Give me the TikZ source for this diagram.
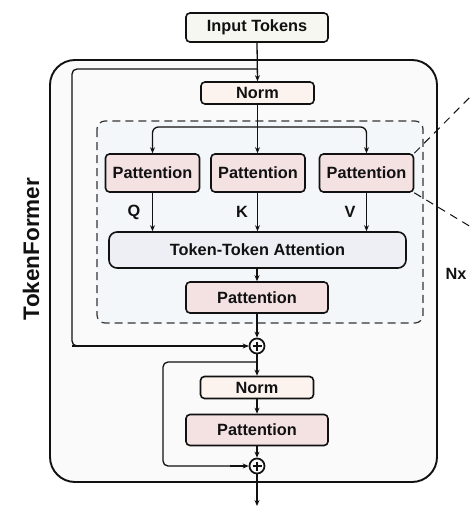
\documentclass[tikz,border=0pt]{standalone}
\usepackage{fontspec}
\setmainfont{Liberation Sans}
\usetikzlibrary{arrows.meta,calc}
\definecolor{inputfill}{HTML}{F7F7F1}
\definecolor{normfill}{HTML}{FCF3EF}
\definecolor{patfill}{HTML}{F4E2E2}
\definecolor{ttafill}{HTML}{EEEFF4}
\definecolor{outerfill}{HTML}{FAFAFA}
\definecolor{dashfill}{HTML}{F3F7F9}
\definecolor{ink}{HTML}{111111}
\tikzset{
  box/.style={draw=ink, line width=1.6pt, rounded corners=4pt, inner sep=0pt,
    font=\fontsize{16.3}{18}\selectfont\bfseries, text=ink},
  inbox/.style={box, fill=inputfill, minimum width=142pt, minimum height=29pt},
  normbox/.style={box, fill=normfill, minimum width=113pt, minimum height=22pt},
  patbox/.style={box, fill=patfill, minimum width=94pt, minimum height=38pt},
  wpatbox/.style={box, fill=patfill, minimum width=142pt, minimum height=31pt},
  ttabox/.style={box, fill=ttafill, rounded corners=8pt, minimum width=297pt, minimum height=36pt},
  arr/.style={draw=ink, line width=1.3pt, -{Stealth[length=6pt,width=5pt]}},
  ln/.style={draw=ink, line width=1.3pt},
  plusnode/.style={circle, draw=ink, line width=1.7pt, minimum size=15pt, inner sep=0pt,
    path picture={\draw[ink, line width=1.7pt]
      ([xshift=-4.5pt]path picture bounding box.center) -- ([xshift=4.5pt]path picture bounding box.center)
      ([yshift=-4.5pt]path picture bounding box.center) -- ([yshift=4.5pt]path picture bounding box.center);}},
  lbl/.style={font=\fontsize{16.3}{18}\selectfont\bfseries, text=ink, inner sep=0pt}
}
\begin{document}
\begin{tikzpicture}[x=1pt,y=-1pt]
\useasboundingbox (0,0) rectangle (472,516);
% outer block
\draw[draw=ink, line width=1.9pt, fill=outerfill, rounded corners=25pt] (50,60) rectangle (437,482);
% dashed attention region
\draw[draw=ink!85, line width=1.2pt, dash pattern=on 8pt off 5pt, fill=dashfill, rounded corners=8pt] (97,121) rectangle (423,323);

\node[inbox] (input) at (257,27.5) {Input Tokens};
\node[normbox] (norm1) at (257.5,93) {Norm};
\node[patbox] (pL) at (152.5,173) {Pattention};
\node[patbox] (pM) at (258,173) {Pattention};
\node[patbox] (pR) at (366.5,173) {Pattention};
\node[ttabox] (tta) at (257.5,250) {Token-Token Attention};
\node[wpatbox] (p2) at (257,297.5) {Pattention};
\node[plusnode] (plus1) at (257,346) {};
\node[normbox] (norm2) at (257,387.5) {Norm};
\node[wpatbox] (p3) at (257,430) {Pattention};
\node[plusnode] (plus2) at (257,466) {};
\coordinate (out) at (257,506);
\coordinate (res1) at (257,69);
\coordinate (br) at (257,127);
\coordinate (res2) at (257,362);

% labels
\node[lbl, rotate=90, font=\fontsize{22.5}{24}\selectfont\bfseries] (title) at (31,249) {TokenFormer};
\node[lbl] (nx) at (456,274) {Nx};
\node[lbl] (q) at (134,212) {Q};
\node[lbl] (k) at (242,212) {K};
\node[lbl] (v) at (350,212) {V};

% main flow
\draw[arr] (input.south) -- (norm1.north);
\draw[ln, rounded corners=5pt] (res1) -- (72,69) -- (72,346) -- ([xshift=-1pt]plus1.west);
\draw[arr] (72,346) -- (plus1.west);
\draw[arr] (norm1.south) -- (norm1.south |- pM.north);
\draw[arr, rounded corners=6pt] (br) -| (pL.north);
\draw[arr, rounded corners=6pt] (br) -| (pR.north);
\draw[arr] (pL.south) -- (pL.south |- tta.north);
\draw[arr] (pM.south -| norm1.south) -- (norm1.south |- tta.north);
\draw[arr] (pR.south) -- (pR.south |- tta.north);
\draw[arr] (tta.south -| p2.north) -- (p2.north);
\draw[arr] (p2.south) -- (plus1.north);
\draw[arr] (plus1.south) -- (norm2.north);
\draw[ln, rounded corners=5pt] (res2) -- (163,362) -- (163,466) -- (240,466);
\draw[arr] (230,466) -- (plus2.west);
\draw[arr] (norm2.south) -- (p3.north);
\draw[arr] (p3.south) -- (plus2.north);
\draw[arr] (plus2.south) -- (out);

% zoom dashed lines
\draw[draw=ink, line width=1pt, dash pattern=on 8pt off 6pt] (pR.north east) -- (476,91);
\draw[draw=ink, line width=1pt, dash pattern=on 8pt off 6pt] (pR.south east) -- (476,230);
\end{tikzpicture}
\end{document}
